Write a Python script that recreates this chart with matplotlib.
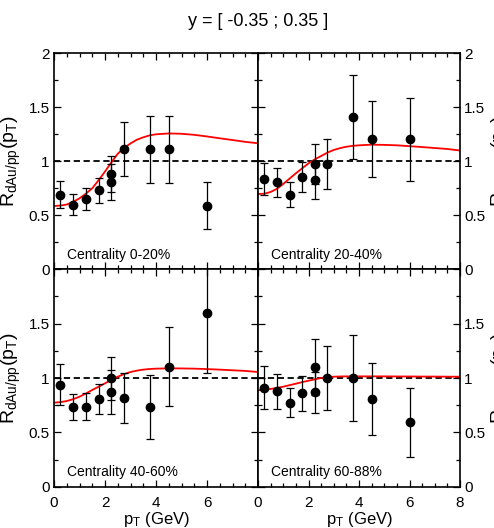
import matplotlib
matplotlib.use('Agg')
import matplotlib.pyplot as plt
from matplotlib.ticker import MultipleLocator, FixedLocator

plt.rcParams['font.family'] = 'Liberation Sans'
plt.rcParams['mathtext.fontset'] = 'custom'
plt.rcParams['mathtext.rm'] = 'Liberation Sans'
plt.rcParams['mathtext.it'] = 'Liberation Sans:italic'
plt.rcParams['lines.scale_dashes'] = False

# measured points (same pT bins in every centrality class, 2.25 appears twice)
pt = [0.25, 0.75, 1.25, 1.75, 2.25, 2.25, 2.75, 3.75, 4.5, 6.0]

r_0_20 = [0.69, 0.60, 0.65, 0.73, 0.885, 0.81, 1.11, 1.11, 1.11, 0.59]
err_0_20 = [0.125, 0.095, 0.105, 0.12, 0.165, 0.165, 0.25, 0.31, 0.31, 0.22]

r_20_40 = [0.835, 0.805, 0.69, 0.855, 0.975, 0.825, 0.975, 1.41, 1.205, 1.205]
err_20_40 = [0.15, 0.135, 0.115, 0.14, 0.185, 0.17, 0.235, 0.39, 0.35, 0.385]

r_40_60 = [0.94, 0.735, 0.735, 0.805, 0.997, 0.87, 0.82, 0.733, 1.105, 1.6]
err_40_60 = [0.19, 0.12, 0.125, 0.14, 0.2, 0.2, 0.23, 0.295, 0.36, 0.555]

r_60_88 = [0.912, 0.877, 0.773, 0.86, 1.10, 0.868, 1.0, 1.0, 0.81, 0.592]
err_60_88 = [0.2, 0.163, 0.135, 0.16, 0.26, 0.19, 0.297, 0.40, 0.33, 0.318]

# model curves
curve_pt = [0, 0.25, 0.5, 0.75, 1.0, 1.25, 1.5, 1.75, 2.0, 2.25, 2.5, 2.75, 3.0,
            3.25, 3.5, 3.75, 4.0, 4.5, 5.0, 5.5, 6.0, 6.5, 7.0, 7.5, 8.0]
model_0_20 = [0.586, 0.59, 0.60, 0.625, 0.657, 0.70, 0.75, 0.825, 0.905, 0.99, 1.07,
              1.125, 1.165, 1.2, 1.222, 1.24, 1.25, 1.258, 1.255, 1.245, 1.23, 1.213,
              1.197, 1.18, 1.167]
model_20_40 = [0.697, 0.70, 0.716, 0.745, 0.79, 0.84, 0.889, 0.935, 0.981, 1.018,
               1.049, 1.08, 1.105, 1.122, 1.135, 1.143, 1.148, 1.154, 1.152, 1.148,
               1.14, 1.132, 1.123, 1.114, 1.10]
model_40_60 = [0.773, 0.778, 0.788, 0.805, 0.828, 0.857, 0.89, 0.92, 0.951, 0.982,
               1.012, 1.036, 1.055, 1.068, 1.077, 1.083, 1.086, 1.089, 1.088, 1.086,
               1.082, 1.077, 1.071, 1.065, 1.055]
model_60_88 = [0.887, 0.892, 0.899, 0.909, 0.92, 0.934, 0.948, 0.962, 0.975, 0.988,
               1.0, 1.007, 1.012, 1.014, 1.015, 1.015, 1.015, 1.015, 1.015, 1.014,
               1.014, 1.013, 1.013, 1.012, 1.012]

labels = ['Centrality 0-20%', 'Centrality 20-40%', 'Centrality 40-60%', 'Centrality 60-88%']
values = [r_0_20, r_20_40, r_40_60, r_60_88]
errors = [err_0_20, err_20_40, err_40_60, err_60_88]
models = [model_0_20, model_20_40, model_40_60, model_60_88]

W, H = 494, 528
fig = plt.figure(figsize=(W / 100, H / 100), dpi=100)

# panel boxes in pixels: left, top, right, bottom
boxes = [(54, 53.3, 258, 269.3), (258, 53.3, 460, 269.3),
         (54, 269.3, 258, 486.7), (258, 269.3, 460, 486.7)]

ylab = r'$\mathregular{R_{dAu/pp}(p_T)}$'

for i in range(4):
    l, t, r, b = boxes[i]
    ax = fig.add_axes([l / W, 1 - b / H, (r - l) / W, (b - t) / H])
    ax.axhline(1.0, color='black', lw=1.3, ls=(0, (4.5, 2.6)), zorder=1)
    ax.plot(curve_pt, models[i], color='red', lw=1.3, zorder=2)
    ax.errorbar(pt, values[i], yerr=errors[i], fmt='o', color='black', ms=6,
                elinewidth=0.9, capsize=2.8, capthick=0.9, zorder=3)
    ax.text(0.5, 0.1, labels[i], fontsize=10, va='baseline', ha='left')
    ax.set_xlim(0, 8)
    ax.set_ylim(0, 2)
    ax.xaxis.set_minor_locator(MultipleLocator(0.5))
    ax.yaxis.set_minor_locator(MultipleLocator(0.25))
    ax.tick_params(which='both', direction='in', top=True, right=True, width=0.9)
    ax.tick_params(which='major', length=5, labelsize=11)
    ax.tick_params(which='minor', length=2.8)
    ax.tick_params(axis='x', pad=7)
    ax.tick_params(axis='y', pad=3)
    for s in ax.spines.values():
        s.set_linewidth(1.2)

    top_row = i < 2
    left_col = i % 2 == 0
    yt = [0, 0.5, 1, 1.5, 2] if top_row else [0, 0.5, 1, 1.5]
    ax.yaxis.set_major_locator(FixedLocator([0, 0.5, 1, 1.5, 2]))
    ax.set_yticklabels([('%g' % v if v in yt else '') for v in [0, 0.5, 1, 1.5, 2]])
    if left_col:
        ax.tick_params(axis='y', labelleft=True, labelright=False)
        ax.set_ylabel(ylab, fontsize=14, labelpad=4)
    else:
        ax.tick_params(axis='y', labelleft=False, labelright=True)
        ax.yaxis.set_label_position('right')
        ax.set_ylabel(ylab, fontsize=14, rotation=90, labelpad=3)

    ax.xaxis.set_major_locator(FixedLocator([0, 2, 4, 6, 8]))
    if top_row:
        ax.tick_params(axis='x', labelbottom=False)
    else:
        xt = [0, 2, 4, 6] if left_col else [0, 2, 4, 6, 8]
        ax.set_xticklabels([('%g' % v if v in xt else '') for v in [0, 2, 4, 6, 8]])
        ax.set_xlabel(r'$\mathregular{p_T}$ (GeV)', fontsize=12, labelpad=-0.3)

fig.text(258 / W, 1 - 22 / H, 'y = [ -0.35 ; 0.35 ]', fontsize=13, ha='center', va='center')

fig.savefig('out.png', dpi=100)
